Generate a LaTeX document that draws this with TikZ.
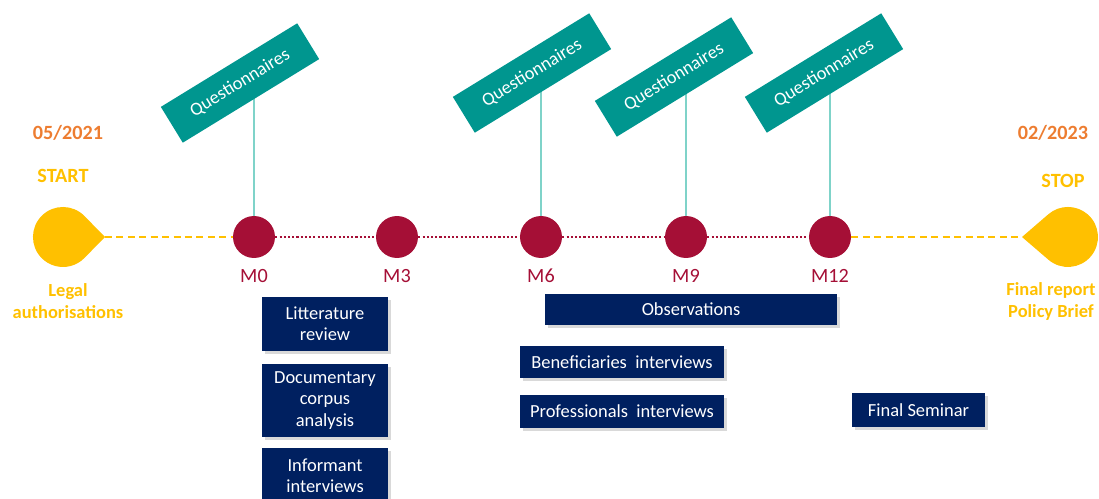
\documentclass[tikz,border=0pt]{standalone}
\usepackage{fontspec}
\setmainfont{Carlito}
\usetikzlibrary{shadows,backgrounds}
\definecolor{jaune}{HTML}{FFC000}
\definecolor{orangedate}{HTML}{ED7D31}
\definecolor{bordeaux}{HTML}{A50F36}
\definecolor{sarcelle}{HTML}{00968F}
\definecolor{sarcelleclair}{HTML}{7FD3C9}
\definecolor{marine}{HTML}{002060}
\begin{document}
\begin{tikzpicture}[x=0.02cm,y=0.02cm,
    jalon/.style={circle,fill=bordeaux,minimum size=0.84cm,inner sep=0pt},
    jalontxt/.style={text=bordeaux,font=\fontsize{11.5}{13}\selectfont},
    quest/.style={fill=sarcelle,text=white,rotate=31.5,minimum width=3.2cm,minimum height=0.84cm,inner sep=0pt,font=\fontsize{10.5}{12}\selectfont},
    tache/.style={fill=marine,text=white,align=center,inner sep=0pt,font=\fontsize{10.5}{12}\selectfont,
        drop shadow={shadow xshift=0.06cm,shadow yshift=-0.06cm,opacity=0.3}},
    datetxt/.style={text=orangedate,font=\bfseries\fontsize{11.5}{13}\selectfont},
    bornetxt/.style={text=jaune,font=\bfseries\fontsize{11.5}{13}\selectfont},
    livrtxt/.style={text=jaune,align=center,font=\bfseries\fontsize{10.5}{12.5}\selectfont},
    tiret/.style={jaune,line width=1.5pt,dash pattern=on 4pt off 2.5pt},
    pointille/.style={bordeaux,line width=1.2pt,dash pattern=on 1.2pt off 1.2pt},
    tige/.style={sarcelleclair,line width=1.2pt}]
                    \useasboundingbox (0,0) rectangle (1099,498);

                    \fill[jaune] (105,261)--(84.4,282) arc[start angle=44.4,end angle=315.6,radius=30]--cycle;
                    \coordinate (debut) at (105,261);
                    \node[datetxt] (d0) at (68,365) {05/2021};
                    \node[bornetxt] (start) at (63,322) {START};
                    \node[livrtxt] (legal) at (68,197) {Legal\\authorisations};

                    \fill[jaune] (1022,261)--(1048.4,238.3) arc[start angle=229.3,end angle=490.7,radius=30]--cycle;
                    \coordinate (fin) at (1022,261);
                    \node[datetxt] (d1) at (1053,365) {02/2023};
                    \node[bornetxt] (stop) at (1063,317) {STOP};
                    \node[livrtxt] (final) at (1051,197) {Final report\\Policy Brief};

                    \foreach \x/\n in {254/0,397/3,541/6,686/9,830/12}{
                        \node[jalon] (m\n) at (\x,261) {};
                        \node[jalontxt] (l\n) at (\x,222) {M\n};
                    }

                    \draw[tiret] (debut)--(m0);
                    \draw[pointille] (m0)--(m3);
                    \draw[pointille] (m3)--(m6);
                    \draw[pointille] (m6)--(m9);
                    \draw[pointille] (m9)--(m12);
                    \draw[tiret] (m12)--(fin);

                    \node[quest] (q0) at (240,415) {Questionnaires};
                    \node[quest] (q6) at (532,425) {Questionnaires};
                    \node[quest] (q9) at (674,421) {Questionnaires};
                    \node[quest] (q12) at (824,425) {Questionnaires};
                    \begin{scope}[on background layer]
                    \foreach \n in {0,6,9,12}
                        \draw[tige] (m\n)--(m\n |- q\n.center);
                    \end{scope}

                    \node[tache,minimum width=2.52cm,minimum height=1.1cm] (litt) at (325,174) {Litterature\\review};
                    \node[tache,minimum width=2.52cm,minimum height=1.46cm] (doc) at (325,97.5) {Documentary\\corpus\\analysis};
                    \node[tache,minimum width=2.52cm,minimum height=1.1cm] (info) at (325,22.5) {Informant\\interviews};

                    \node[tache,minimum width=5.84cm,minimum height=0.62cm] (obs) at (691,188.5) {Observations};
                    \node[tache,minimum width=4.08cm,minimum height=0.64cm] (benef) at (622,136) {Beneficiaries\ \ interviews};
                    \node[tache,minimum width=4.08cm,minimum height=0.66cm] (prof) at (622,86.5) {Professionals\ \ interviews};
                    \node[tache,minimum width=2.66cm,minimum height=0.68cm] (semi) at (918.5,88) {Final Seminar};
\end{tikzpicture}
\end{document}
